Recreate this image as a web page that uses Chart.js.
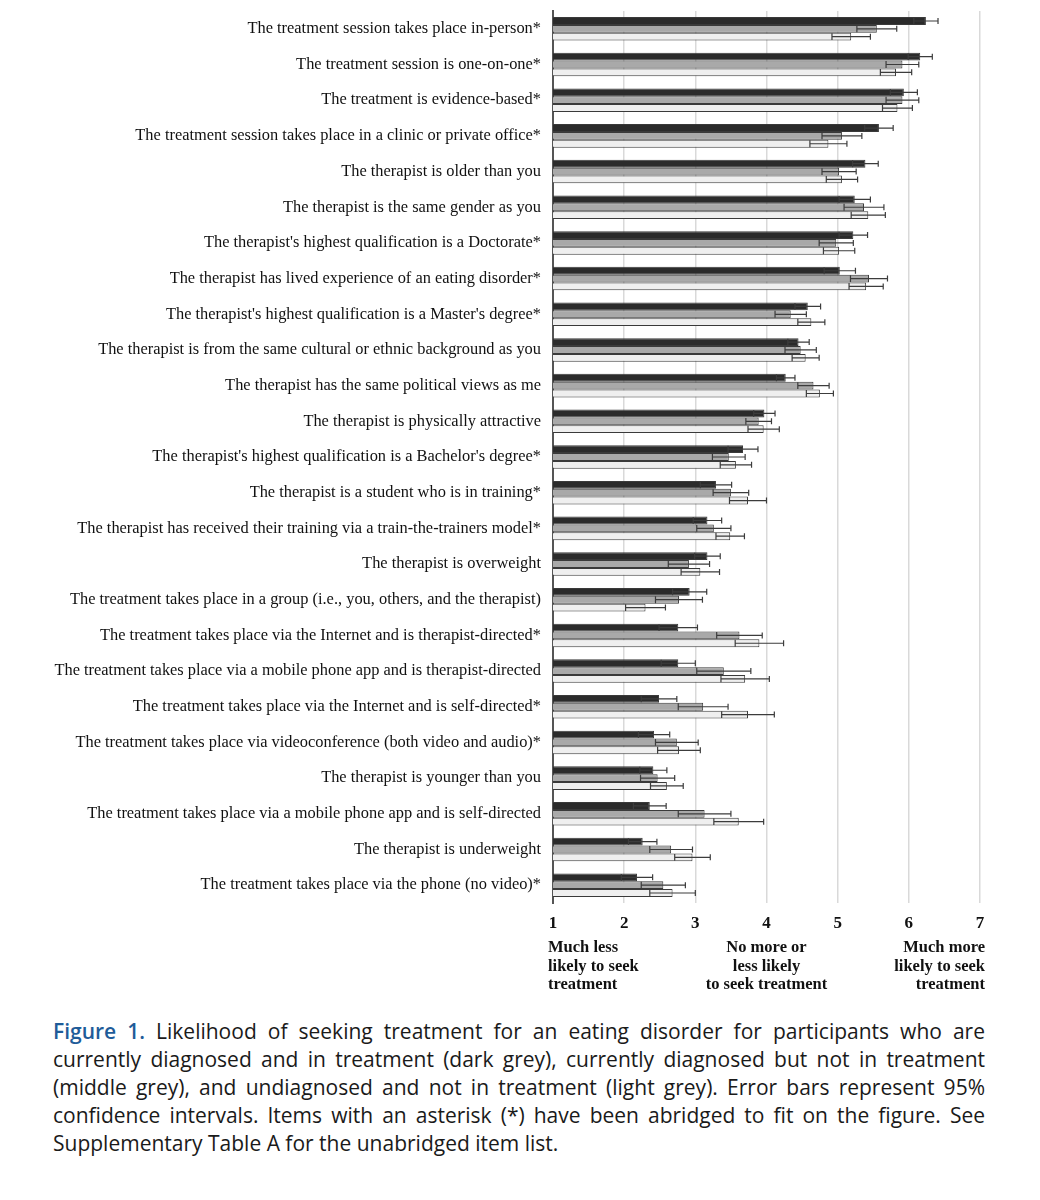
<!DOCTYPE html>
<html>
<head>
<meta charset="utf-8">
<script src="https://cdn.jsdelivr.net/npm/chart.js@4.4.1/dist/chart.umd.min.js"></script>
<style>
  body { margin: 0; background: #fff; }
  #wrap { position: relative; width: 1040px; height: 1000px; }
  #caption {
    margin: 17px 0 0 53px;
    width: 932px;
    font-family: "Open Sans", sans-serif;
    font-size: 21px;
    line-height: 28px;
    color: #1a1a1a;
    text-align: justify;
  }
  #caption b { color: #1f5c99; font-weight: 600; }
</style>
</head>
<body>
<div id="wrap"><canvas id="chart" width="1040" height="1000"></canvas></div>
<p id="caption"><b>Figure 1.</b> Likelihood of seeking treatment for an eating disorder for participants who are currently diagnosed and in treatment (dark grey), currently diagnosed but not in treatment (middle grey), and undiagnosed and not in treatment (light grey). Error bars represent 95% confidence intervals. Items with an asterisk (*) have been abridged to fit on the figure. See Supplementary Table A for the unabridged item list.</p>
<script>
// Items, top to bottom
const items = [
    'The treatment session takes place in-person*',
    'The treatment session is one-on-one*',
    'The treatment is evidence-based*',
    'The treatment session takes place in a clinic or private office*',
    'The therapist is older than you',
    'The therapist is the same gender as you',
    "The therapist's highest qualification is a Doctorate*",
    'The therapist has lived experience of an eating disorder*',
    "The therapist's highest qualification is a Master's degree*",
    'The therapist is from the same cultural or ethnic background as you',
    'The therapist has the same political views as me',
    'The therapist is physically attractive',
    "The therapist's highest qualification is a Bachelor's degree*",
    'The therapist is a student who is in training*',
    'The therapist has received their training via a train-the-trainers model*',
    'The therapist is overweight',
    'The treatment takes place in a group (i.e., you, others, and the therapist)',
    'The treatment takes place via the Internet and is therapist-directed*',
    'The treatment takes place via a mobile phone app and is therapist-directed',
    'The treatment takes place via the Internet and is self-directed*',
    'The treatment takes place via videoconference (both video and audio)*',
    'The therapist is younger than you',
    'The treatment takes place via a mobile phone app and is self-directed',
    'The therapist is underweight',
    'The treatment takes place via the phone (no video)*'
];

// Diagnosed and in treatment (dark grey)
const inTreatment = [6.24, 6.16, 5.93, 5.58, 5.39, 5.24, 5.22, 5.03, 4.58, 4.45, 4.27, 3.97, 3.67,
    3.29, 3.17, 3.17, 2.92, 2.76, 2.76, 2.49, 2.42, 2.41, 2.36, 2.26, 2.18];
const inTreatmentErr = [0.17, 0.17, 0.19, 0.20, 0.18, 0.22, 0.20, 0.22, 0.18, 0.15, 0.13, 0.15, 0.21,
    0.22, 0.20, 0.18, 0.24, 0.27, 0.24, 0.25, 0.22, 0.19, 0.23, 0.20, 0.22];

// Diagnosed but not in treatment (middle grey)
const notInTreatment = [5.55, 5.91, 5.91, 5.06, 5.02, 5.37, 4.98, 5.44, 4.34, 4.48, 4.66, 3.89, 3.47,
    3.50, 3.26, 2.91, 2.77, 3.62, 3.40, 3.11, 2.74, 2.47, 3.13, 2.66, 2.55];
const notInTreatmentErr = [0.28, 0.23, 0.23, 0.28, 0.24, 0.28, 0.24, 0.26, 0.22, 0.22, 0.22, 0.18, 0.23,
    0.25, 0.24, 0.29, 0.33, 0.32, 0.38, 0.35, 0.30, 0.24, 0.37, 0.30, 0.31];

// Undiagnosed and not in treatment (light grey)
const undiagnosed = [5.19, 5.82, 5.84, 4.87, 5.06, 5.43, 5.02, 5.40, 4.63, 4.55, 4.75, 3.96, 3.57,
    3.74, 3.49, 3.07, 2.30, 3.90, 3.70, 3.74, 2.77, 2.60, 3.61, 2.96, 2.68];
const undiagnosedErr = [0.27, 0.22, 0.21, 0.26, 0.22, 0.24, 0.22, 0.24, 0.19, 0.19, 0.19, 0.22, 0.22,
    0.26, 0.20, 0.27, 0.28, 0.34, 0.34, 0.37, 0.30, 0.23, 0.35, 0.25, 0.32];

const xTicks = [1, 2, 3, 4, 5, 6, 7];

// Anchor texts under the axis
const anchorLeft = ['Much less', 'likely to seek', 'treatment'];
const anchorMid = ['No more or', 'less likely', 'to seek treatment'];
const anchorRight = ['Much more', 'likely to seek', 'treatment'];

const errors = [inTreatmentErr, notInTreatmentErr, undiagnosedErr];

// Draws symmetric error bars on every bar
const errorBarPlugin = {
    id: 'errorBars',
    afterDatasetsDraw(chart) {
        const ctx = chart.ctx;
        const xScale = chart.scales.x;
        ctx.save();
        ctx.strokeStyle = '#3c3c3c';
        ctx.lineWidth = 1.2;
        chart.data.datasets.forEach((ds, di) => {
            const meta = chart.getDatasetMeta(di);
            meta.data.forEach((bar, i) => {
                const v = ds.data[i];
                const e = errors[di][i];
                const lo = xScale.getPixelForValue(v - e);
                const hi = xScale.getPixelForValue(v + e);
                const y = bar.y;
                const h = bar.height / 2 - 0.5;
                ctx.beginPath();
                ctx.moveTo(lo, y);
                ctx.lineTo(hi, y);
                ctx.moveTo(lo, y - h);
                ctx.lineTo(lo, y + h);
                ctx.moveTo(hi, y - 3);
                ctx.lineTo(hi, y + 3);
                ctx.stroke();
            });
        });
        ctx.restore();
    }
};

// Writes the three anchor descriptions below the x axis
const anchorPlugin = {
    id: 'anchors',
    afterDraw(chart) {
        const ctx = chart.ctx;
        const xScale = chart.scales.x;
        const lineYs = [948, 967, 985];
        ctx.save();
        ctx.font = 'bold 16.5px "Liberation Serif", serif';
        ctx.fillStyle = '#111';
        ctx.textBaseline = 'middle';
        ctx.textAlign = 'left';
        anchorLeft.forEach((t, i) => ctx.fillText(t, xScale.getPixelForValue(1) - 5, lineYs[i]));
        ctx.textAlign = 'center';
        anchorMid.forEach((t, i) => ctx.fillText(t, xScale.getPixelForValue(4), lineYs[i]));
        ctx.textAlign = 'right';
        anchorRight.forEach((t, i) => ctx.fillText(t, xScale.getPixelForValue(7) + 5, lineYs[i]));
        ctx.restore();
    }
};

const ctx = document.getElementById('chart').getContext('2d');
new Chart(ctx, {
    type: 'bar',
    data: {
        labels: items,
        datasets: [
            { label: 'Diagnosed, in treatment', data: inTreatment, backgroundColor: '#2b2b2b' },
            { label: 'Diagnosed, not in treatment', data: notInTreatment, backgroundColor: '#a9a9a9' },
            { label: 'Undiagnosed, not in treatment', data: undiagnosed, backgroundColor: '#efefef' }
        ].map(d => Object.assign(d, {
            borderColor: '#3a3a3a',
            borderWidth: 1,
            categoryPercentage: 0.66,
            barPercentage: 1.0
        }))
    },
    options: {
        indexAxis: 'y',
        responsive: false,
        animation: false,
        layout: { padding: { top: 11, right: 60, left: 0, bottom: 0 } },
        plugins: {
            legend: { display: false },
            tooltip: { enabled: false }
        },
        scales: {
            x: {
                min: 1,
                max: 7,
                afterBuildTicks: s => { s.ticks = xTicks.map(v => ({ value: v })); },
                afterFit: s => { s.height = 97; s.paddingLeft = 0; s.paddingRight = 0; },
                grid: { color: '#d9d9d9', lineWidth: 1.5, drawTicks: false },
                border: { display: false },
                ticks: {
                    padding: 10,
                    color: '#111',
                    font: { family: '"Liberation Serif", serif', size: 17, weight: 'bold' }
                }
            },
            y: {
                afterFit: s => { s.width = 553; s.paddingTop = 0; s.paddingBottom = 0; },
                grid: { display: false, drawTicks: false },
                border: { display: true, color: '#555', width: 2 },
                ticks: {
                    padding: 12,
                    color: '#111',
                    autoSkip: false,
                    font: { family: '"Liberation Serif", serif', size: 16.4 }
                }
            }
        }
    },
    plugins: [errorBarPlugin, anchorPlugin]
});
</script>
</body>
</html>
